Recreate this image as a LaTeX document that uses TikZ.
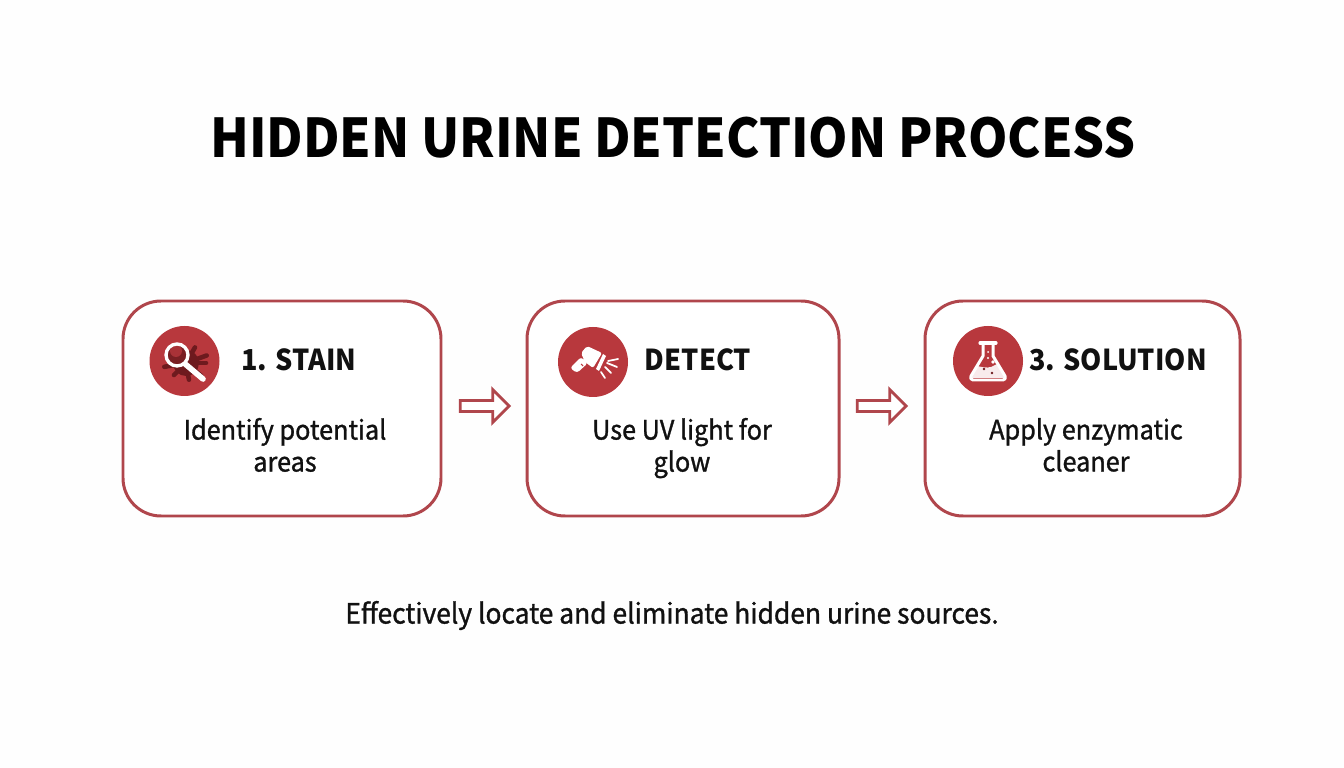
\documentclass[tikz,border=0pt]{standalone}
\usepackage{fontspec}
\setmainfont[FakeStretch=0.94]{Noto Sans CJK SC}
\newfontfamily\medfont[FakeBold=1.1, FakeStretch=0.945]{Noto Sans CJK SC}
\usetikzlibrary{positioning, shapes.arrows}
\definecolor{boxred}{HTML}{B0464C}
\definecolor{iconred}{HTML}{B8383D}
\definecolor{darkred}{HTML}{6E1A1E}
\definecolor{inkblack}{HTML}{111111}

\begin{document}
\begin{tikzpicture}[
		x=0.1mm, y=-0.1mm,
		stepbox/.style={draw=boxred, fill=white, line width=0.85pt, rounded corners=3.8mm, minimum height=21.5mm, inner sep=0pt},
		iconcircle/.style={circle, fill=iconred, minimum size=7mm, inner sep=0pt},
		headtxt/.style={font=\fontsize{8.2}{10}\bfseries, text=inkblack, inner sep=0pt},
		bodytxt/.style={font=\fontsize{7.6}{9.1}\medfont, text=inkblack, align=center, inner sep=0pt, text depth=0.75mm},
		flowarrow/.style={single arrow, draw=boxred, fill=white, line width=0.8pt, minimum height=4.9mm, minimum width=3.3mm, single arrow head extend=0.9mm, single arrow tip angle=90, inner sep=0.3mm},
		ray/.style={draw=white, line width=0.5pt, line cap=round},
	]
	\useasboundingbox (0,0) rectangle (1344,768);
	\fill[white!99.6!black] (0,0) rectangle (1344,768);

	\node[font=\fontsize{15.2}{18}\bfseries, text=black, inner sep=0pt] (title) at (673,137.5) {HIDDEN URINE DETECTION PROCESS};

	\node[stepbox, minimum width=31.8mm] (stain) at (282,408.5) {};
	\node[stepbox, minimum width=31.2mm] (detect) at (683,408.5) {};
	\node[stepbox, minimum width=31.5mm] (solution) at (1082.5,408.5) {};

	\node[iconcircle] (stainicon) at (184.5,361) {};
	\node[iconcircle] (detecticon) at (593,362) {};
	\node[iconcircle] (solutionicon) at (988,361) {};

	\node[headtxt] (stainhead) at (299,359.5) {1. STAIN};
	\node[headtxt] (detecthead) at (698,359.5) {DETECT};
	\node[headtxt] (solutionhead) at (1118,359.5) {3. SOLUTION};

	\node[bodytxt] (stainbody) at (285,448.5) {Identify potential\\areas};
	\node[bodytxt] (detectbody) at (682,448.5) {Use UV light for\\glow};
	\node[bodytxt] (solutionbody) at (1086,448.5) {Apply enzymatic\\cleaner};

	\node[flowarrow] (arrowa) at (482,406) {};
	\node[flowarrow] (arrowb) at (879,406) {};

	\node[bodytxt, font=\fontsize{7.95}{9.1}\medfont] (footer) at (672,616) {Effectively locate and eliminate hidden urine sources.};

	% stain and magnifier
	\fill[darkred] (186,363) circle (13);
	\foreach \ang/\len in {0/20, 40/20, 80/17, 135/17, 170/22, 205/19, 250/15, 300/18, 340/22} {
		\draw[darkred, line width=1.3pt, line cap=round] (186,363) -- ++(\ang:\len);
	}
	\draw[white, line width=1.6pt, line cap=round] (184,363) -- (203,379);
	\fill[darkred!85!iconred] (177,355) circle (11);
	\fill[iconred!80!darkred] (176,351) circle (6);
	\draw[white, line width=0.95pt] (177,355) circle (11);

	% uv lamp
	\fill[white, rounded corners=0.3mm] (570,368) -- (581,357) -- (588,363) -- (577,373) -- cycle;
	\draw[iconred, line width=0.3pt] (581,364) -- (583,366);
	\fill[white, rounded corners=0.2mm] (581,353) -- (587,346) -- (602,353) -- (593,368) -- (585,362) -- cycle;
	\fill[white] (603,354) -- (606,356) -- (599,371) -- (596,369) -- cycle;
	\draw[ray] (608,361) -- (618,359);
	\draw[ray] (607,363) -- (617,367);
	\draw[ray] (605,367) -- (611,373);
	\draw[ray] (601,372) -- (605,378);

	% flask
	\begin{scope}
		\clip (983,345) -- (983,356) -- (971,378) -- (1005,378) -- (993,356) -- (993,345) -- cycle;
		\fill[white!90!iconred] (965,366) .. controls (975,362) and (985,372) .. (995,365) .. controls (1000,362) and (1005,364) .. (1010,362) -- (1010,380) -- (965,380) -- cycle;
	\end{scope}
	\draw[white, line width=0.85pt, line join=round] (983,343) -- (983,356) -- (971,376) .. controls (970,378) and (971,380) .. (973,380) -- (1003,380) .. controls (1005,380) and (1006,378) .. (1005,376) -- (993,356) -- (993,343);
	\draw[white, line width=0.9pt, line cap=round] (980,343) -- (996,343);
	\fill[white] (988,352) circle (1);
	\fill[white] (988,358) circle (1.2);
	\fill[white] (993,362) circle (1.8);
	\fill[darkred] (984,369) circle (1.3);
	\fill[darkred] (992,373) circle (1.3);
\end{tikzpicture}
\end{document}
